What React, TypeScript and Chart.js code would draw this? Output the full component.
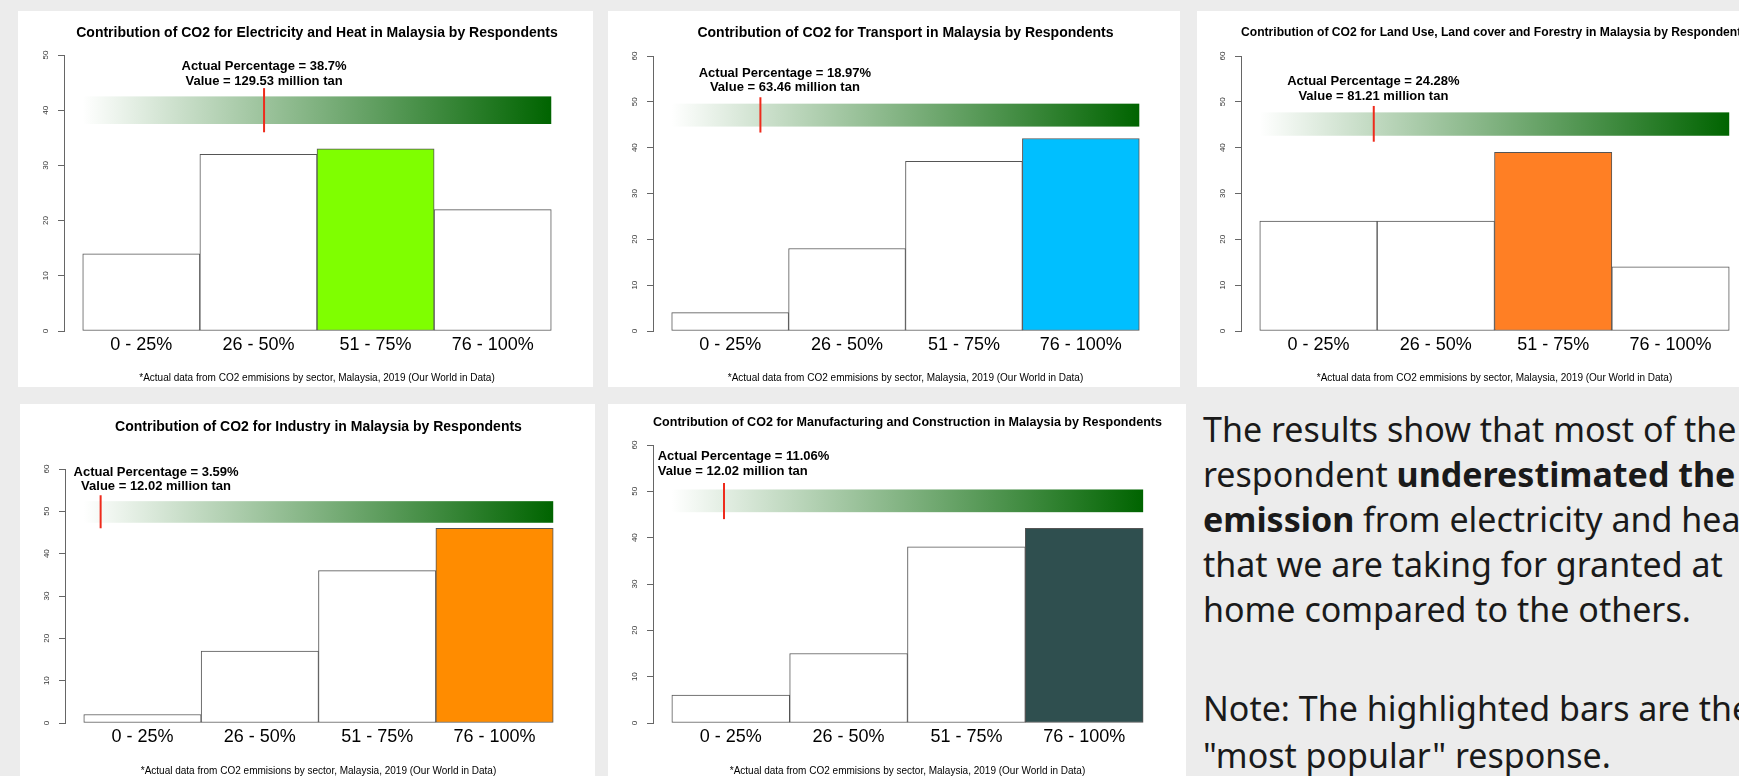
import React, { useEffect, useRef } from 'react';
import { Chart, registerables } from 'chart.js';

Chart.register(...registerables);
Chart.defaults.font.family = '"Liberation Sans", Arial, Helvetica, sans-serif';

// ---------------- data ----------------
const categories = ['0 - 25%', '26 - 50%', '51 - 75%', '76 - 100%'];
const categoryCenters = [12.5, 37.5, 62.5, 87.5]; // bar centres on the 0-100 % axis

const titles = [
  'Contribution of CO2 for Electricity and Heat in Malaysia by Respondents',
  'Contribution of CO2 for Transport in Malaysia by Respondents',
  'Contribution of CO2 for Land Use, Land cover and Forestry in Malaysia by Respondents',
  'Contribution of CO2 for Industry in Malaysia by Respondents',
  'Contribution of CO2 for Manufacturing and Construction in Malaysia by Respondents',
];

const electricityCounts = [14, 32, 33, 22];
const transportCounts = [4, 18, 37, 42];
const landUseCounts = [24, 24, 39, 14];
const industryCounts = [2, 17, 36, 46];
const manufacturingCounts = [6, 15, 38, 42];
const seriesCounts = [electricityCounts, transportCounts, landUseCounts, industryCounts, manufacturingCounts];

const highlightIndex = [2, 3, 2, 3, 3];
const yAxisMax = [50, 60, 60, 60, 60];
const yTickStep = 10;

const actualPercentages = [38.7, 18.97, 24.28, 3.59, 11.06];
const actualValues = ['129.53', '63.46', '81.21', '12.02', '12.02'];

const footnote = '*Actual data from CO2 emmisions by sector, Malaysia, 2019 (Our World in Data)';

// ---------------- styles / layout ----------------
const highlightColors = ['#7FFF00', '#00BFFF', '#FF7F24', '#FF8C00', '#2F4F4F'];

// annotation placement in data units (band = gradient strip, marker = red line, label = text)
const annotationLayout = [
  { bandLow: 37.5, bandHigh: 42.5, markLow: 36, markHigh: 44, textX: 38.7, align: 'center', line1Y: 47.2, line2Y: 44.5 },
  { bandLow: 44.6, bandHigh: 49.6, markLow: 43.3, markHigh: 51, textX: 24.2, align: 'center', line1Y: 55.5, line2Y: 52.3 },
  { bandLow: 42.6, bandHigh: 47.7, markLow: 41.3, markHigh: 49.1, textX: 24.2, align: 'center', line1Y: 53.6, line2Y: 50.4 },
  { bandLow: 47.3, bandHigh: 52.4, markLow: 46, markHigh: 53.8, textX: 15.4, align: 'center', line1Y: 58.3, line2Y: 55.0 },
  { bandLow: 45.5, bandHigh: 50.4, markLow: 44, markHigh: 51.8, textX: -3, align: 'left', line1Y: 56.7, line2Y: 53.5 },
];

// panel rectangles and chart-area targets (page pixels)
const panelLayout = [
  { x: 18, y: 11, w: 575, h: 376, l: 64, r: 570, t: 55, b: 331, titleBase: 38, titleSize: 14, catBase: 351, footBase: 382 },
  { x: 608, y: 11, w: 572, h: 376, l: 653, r: 1158, t: 56, b: 331, titleBase: 38, titleSize: 14, catBase: 351, footBase: 382 },
  { x: 1197, y: 11, w: 575, h: 376, l: 1241, r: 1748, t: 56, b: 331, titleBase: 37, titleSize: 12.3, catBase: 351, footBase: 382 },
  { x: 20, y: 404, w: 575, h: 376, l: 65, r: 572, t: 469, b: 723, titleBase: 432, titleSize: 14, catBase: 743, footBase: 775 },
  { x: 608, y: 404, w: 578, h: 376, l: 653, r: 1162, t: 445, b: 723, titleBase: 427, titleSize: 12.8, catBase: 743, footBase: 775 },
];

const Y_AXIS_W = 30;
const X_AXIS_H = 30;
const CAT_FONT = 18;
const FOOT_FONT = 10;
const MID = 0.35; // middle-baseline to alphabetic-baseline offset (em)

function ChartPanel({ idx }: { idx: number }) {
  const ref = useRef<HTMLCanvasElement | null>(null);
  const p = panelLayout[idx];

  useEffect(() => {
    if (!ref.current) return;
    const a = annotationLayout[idx];
    const relL = p.l - p.x;
    const relR = p.x + p.w - p.r;
    const relT = p.t - p.y;
    const relB = p.b - p.y;
    const tfs = p.titleSize;
    const titlePadTop = p.titleBase - p.y - MID * tfs - tfs / 2;
    const titlePadBottom = relT - titlePadTop - tfs;
    const xTickPad = p.catBase - p.b - 0.6 * CAT_FONT - MID * CAT_FONT;
    const footTop = relB + X_AXIS_H;
    const footPadTop = p.footBase - p.y - MID * FOOT_FONT - FOOT_FONT / 2 - footTop;
    const footPadBottom = p.h - footTop - footPadTop - FOOT_FONT;

    const counts = seriesCounts[idx];
    const colors = counts.map((_, i) => (i === highlightIndex[idx] ? highlightColors[idx] : '#ffffff'));

    const annotation = {
      id: 'co2Annotation',
      beforeDatasetsDraw(chart: any) {
        const { ctx, scales } = chart;
        const x = scales.x, y = scales.y;
        const x0 = x.getPixelForValue(0);
        const x1 = x.getPixelForValue(100);
        const yTop = y.getPixelForValue(a.bandHigh);
        const yBot = y.getPixelForValue(a.bandLow);
        const g = ctx.createLinearGradient(x0, 0, x1, 0);
        g.addColorStop(0, '#ffffff');
        g.addColorStop(1, '#006400');
        ctx.save();
        ctx.fillStyle = g;
        ctx.fillRect(x0, yTop, x1 - x0, yBot - yTop);
        ctx.restore();
      },
      afterDatasetsDraw(chart: any) {
        const { ctx, scales } = chart;
        const x = scales.x, y = scales.y;
        const mx = x.getPixelForValue(actualPercentages[idx]);
        ctx.save();
        ctx.strokeStyle = '#ee2b1c';
        ctx.lineWidth = 2;
        ctx.beginPath();
        ctx.moveTo(mx, y.getPixelForValue(a.markHigh));
        ctx.lineTo(mx, y.getPixelForValue(a.markLow));
        ctx.stroke();
        ctx.fillStyle = '#000000';
        ctx.font = 'bold 13px "Liberation Sans", Arial, sans-serif';
        ctx.textAlign = a.align;
        ctx.textBaseline = 'alphabetic';
        const tx = x.getPixelForValue(a.textX);
        ctx.fillText('Actual Percentage = ' + actualPercentages[idx] + '%', tx, y.getPixelForValue(a.line1Y));
        ctx.fillText('Value = ' + actualValues[idx] + ' million tan', tx, y.getPixelForValue(a.line2Y));
        ctx.restore();
      },
    };

    const chart = new Chart(ref.current, {
      type: 'bar',
      data: {
        datasets: [
          {
            data: counts.map((v, i) => ({ x: categoryCenters[i], y: v })),
            backgroundColor: colors,
            borderColor: '#555555',
            borderWidth: 1,
            borderSkipped: false,
            barPercentage: 1,
            categoryPercentage: 1,
          },
        ],
      },
      options: {
        responsive: false,
        animation: false,
        events: [],
        layout: { padding: { left: relL - Y_AXIS_W, right: relR, top: 0, bottom: 0 } },
        plugins: {
          legend: { display: false },
          tooltip: { enabled: false },
          title: {
            display: true,
            text: titles[idx],
            fullSize: false,
            color: '#000000',
            font: { size: tfs, weight: 'bold', lineHeight: 1 },
            padding: { top: titlePadTop, bottom: titlePadBottom },
          },
          subtitle: {
            display: true,
            position: 'bottom',
            text: footnote,
            fullSize: false,
            color: '#000000',
            font: { size: FOOT_FONT, lineHeight: 1 },
            padding: { top: footPadTop, bottom: footPadBottom },
          },
        },
        scales: {
          x: {
            type: 'linear',
            min: -4,
            max: 104,
            offset: false,
            afterBuildTicks: (s: any) => {
              s.ticks = categoryCenters.map((v) => ({ value: v }));
            },
            afterFit: (s: any) => {
              s.height = X_AXIS_H;
            },
            grid: { display: false, drawTicks: false, offset: false },
            border: { display: false },
            ticks: {
              autoSkip: false,
              maxRotation: 0,
              minRotation: 0,
              padding: xTickPad,
              color: '#000000',
              font: { size: CAT_FONT, lineHeight: 1.2 },
              callback: (_v: any, i: number) => categories[i],
            },
          },
          y: {
            min: 0,
            max: yAxisMax[idx],
            afterFit: (s: any) => {
              s.width = Y_AXIS_W;
            },
            grid: { drawOnChartArea: false, drawTicks: true, tickLength: 6, color: '#666666' },
            border: { display: true, color: '#666666' },
            ticks: {
              stepSize: yTickStep,
              minRotation: 90,
              maxRotation: 90,
              crossAlign: 'center',
              padding: 7.5,
              color: '#333333',
              font: { size: 8 },
            },
          },
        },
      } as any,
      plugins: [annotation],
    });
    return () => chart.destroy();
  }, [idx]);

  return (
    <div style={{ position: 'absolute', left: p.x, top: p.y, width: p.w, height: p.h, background: '#ffffff' }}>
      <canvas ref={ref} width={p.w} height={p.h} style={{ display: 'block', width: p.w, height: p.h }} />
    </div>
  );
}

export default function App() {
  const textStyle: React.CSSProperties = {
    position: 'absolute',
    left: 1203,
    fontFamily: '"Noto Sans", "Open Sans", sans-serif',
    fontSize: 34,
    color: '#1a1a1a',
    whiteSpace: 'nowrap',
  };
  return (
    <div
      style={{
        position: 'fixed',
        left: 0,
        top: 0,
        width: 1739,
        height: 776,
        overflow: 'hidden',
        background: '#ececec',
      }}
    >
      {panelLayout.map((_, i) => (
        <ChartPanel key={i} idx={i} />
      ))}
      <div style={{ ...textStyle, top: 407, lineHeight: '45px' }}>
        <div>The results show that most of the</div>
        <div>
          respondent <b>underestimated the CO2</b>
        </div>
        <div>
          <b>emission</b> from electricity and heat
        </div>
        <div>that we are taking for granted at</div>
        <div>home compared to the others.</div>
      </div>
      <div style={{ ...textStyle, top: 685, lineHeight: '47px' }}>
        <div>Note: The highlighted bars are the</div>
        <div>"most popular" response.</div>
      </div>
    </div>
  );
}
